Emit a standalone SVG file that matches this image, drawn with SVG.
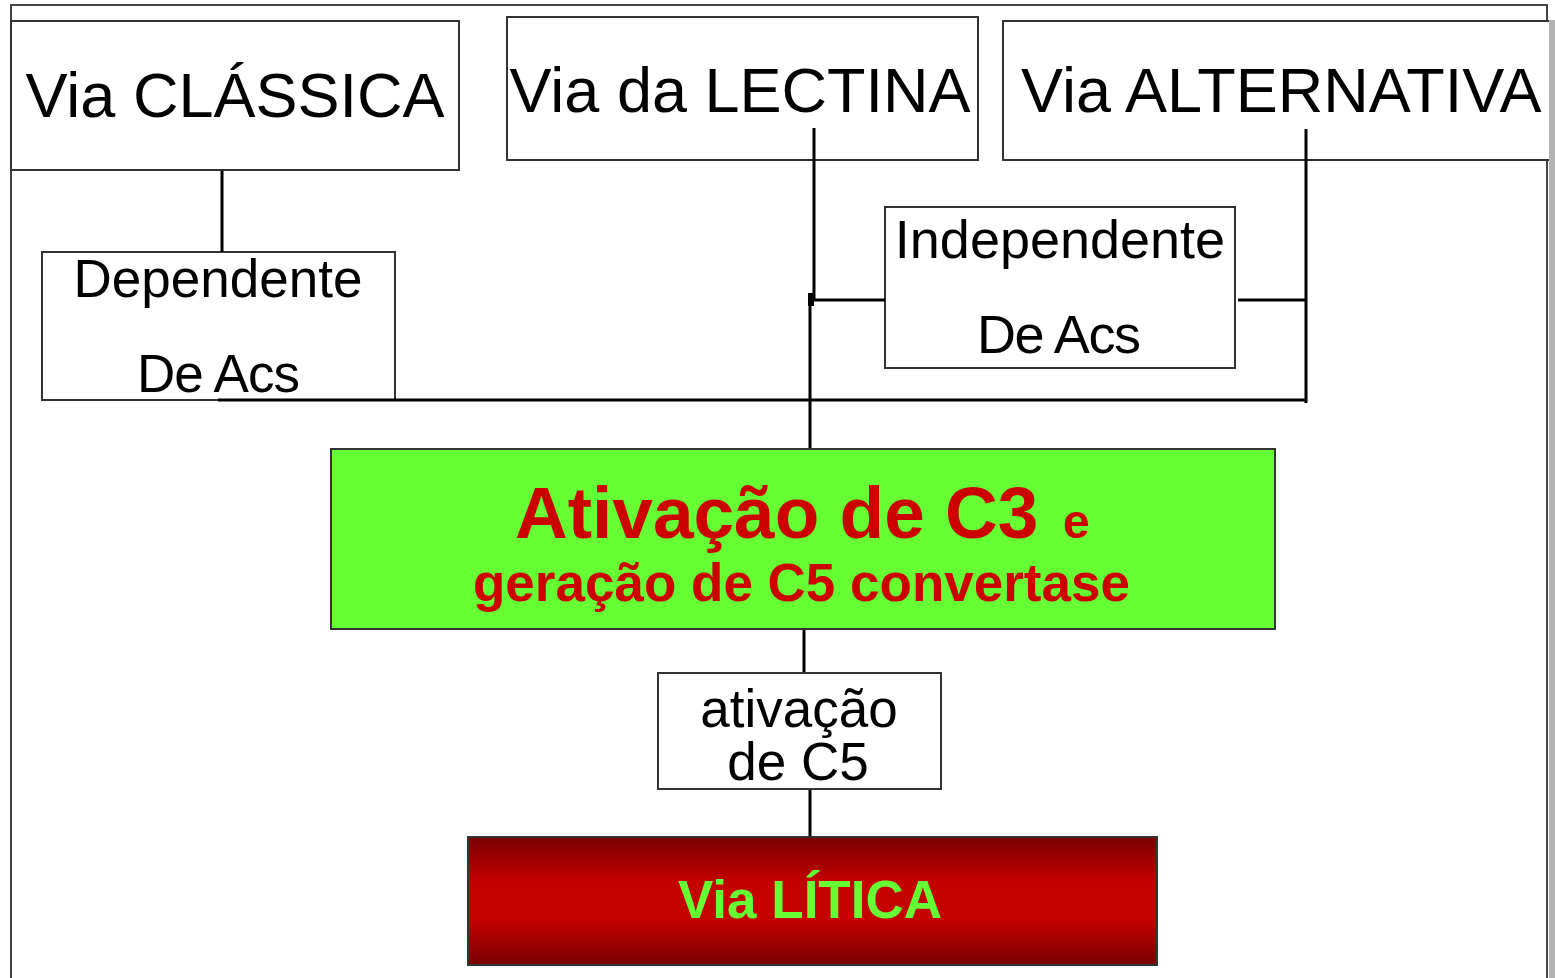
<svg xmlns="http://www.w3.org/2000/svg" width="1555" height="978" viewBox="0 0 1555 978">
<defs>
<linearGradient id="redgrad" x1="0" y1="0" x2="0" y2="1">
<stop offset="0" stop-color="#7A0000"/>
<stop offset="0.35" stop-color="#C40000"/>
<stop offset="0.65" stop-color="#C40000"/>
<stop offset="1" stop-color="#7A0000"/>
</linearGradient>
<style>
.box{fill:#fff;stroke:#333;stroke-width:2}
.t{font-family:"Liberation Sans",Arial,sans-serif;fill:#000}
.b{font-family:"Liberation Sans",Arial,sans-serif;font-weight:bold}
.c{fill:none;stroke:#000;stroke-width:3}
</style>
</defs>
<rect x="0" y="0" width="1555" height="978" fill="#fff"/>
<g id="frame">
<path d="M11 978 V5 H1547 V978" fill="none" stroke="#444" stroke-width="2"/>
</g>
<g id="via-classica">
<rect class="box" x="11" y="21" width="448" height="149"/>
<text class="t" x="235" y="117" font-size="63" text-anchor="middle">Via CLÁSSICA</text>
</g>
<g id="via-lectina">
<rect class="box" x="507" y="17" width="471" height="143"/>
<text class="t" x="740" y="112" font-size="63" text-anchor="middle">Via da LECTINA</text>
</g>
<g id="via-alternativa">
<rect class="box" x="1003" y="21" width="600" height="139"/>
<text class="t" x="1021" y="112" font-size="63">Via ALTERNATIVA</text>
</g>
<g id="dependente">
<rect class="box" x="42" y="252" width="353" height="148"/>
<text class="t" x="218" y="297" font-size="53" text-anchor="middle">Dependente</text>
<text class="t" x="137" y="392" font-size="53" textLength="163" lengthAdjust="spacing">De Acs</text>
</g>
<g id="independente">
<rect class="box" x="885" y="207" width="350" height="161"/>
<text class="t" x="1060" y="258" font-size="54" text-anchor="middle">Independente</text>
<text class="t" x="977" y="353" font-size="54" textLength="164" lengthAdjust="spacing">De Acs</text>
</g>
<g id="connectors">
<path class="c" d="M222 171 V252"/>
<path class="c" d="M814 128 V300"/>
<path class="c" d="M810 293 V449"/>
<rect x="808" y="293" width="6" height="13" fill="#000"/>
<path class="c" d="M813 300 H885"/>
<path class="c" d="M1238 300 H1306"/>
<path class="c" d="M1306 129 V403"/>
<path class="c" d="M218 400 H1307"/>
<path class="c" d="M804 629 V672"/>
<path class="c" d="M810 789 V837"/>
</g>
<g id="ativacao-c3">
<rect x="331" y="449" width="944" height="180" fill="#66FF33" stroke="#333" stroke-width="2"/>
<text class="b" x="515" y="538" font-size="73" fill="#CC0000">Ativação de C3</text>
<text class="b" x="1063" y="538" font-size="48" fill="#CC0000">e</text>
<text class="b" x="473" y="601" font-size="53" fill="#CC0000">geração de C5 convertase</text>
</g>
<g id="ativacao-c5">
<rect class="box" x="658" y="673" width="283" height="116"/>
<text class="t" x="799" y="727" font-size="53" text-anchor="middle">ativação</text>
<text class="t" x="798" y="780" font-size="53" text-anchor="middle">de C5</text>
</g>
<g id="via-litica">
<rect x="468" y="837" width="689" height="128" fill="url(#redgrad)" stroke="#333" stroke-width="2"/>
<text class="b" x="810" y="918" font-size="53" fill="#66FF33" text-anchor="middle">Via LÍTICA</text>
</g>
<rect x="1549" y="20" width="6" height="958" fill="#B3B3B3"/>
</svg>
